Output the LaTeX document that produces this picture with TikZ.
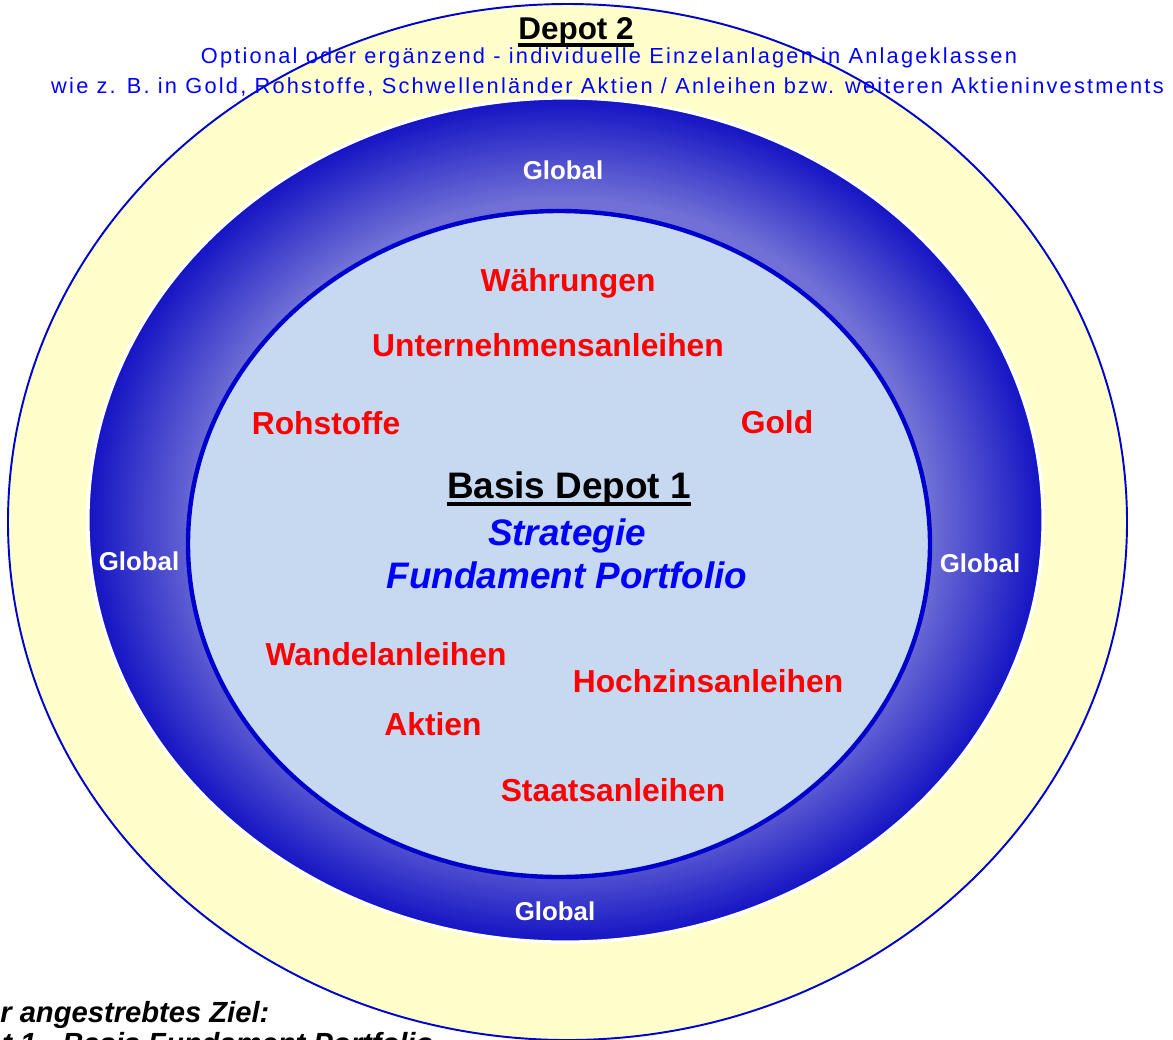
\documentclass[tikz,border=0pt]{standalone}
\usepackage{fontspec}
\setmainfont{Liberation Sans}
\newfontfamily\trackedfont[LetterSpace=10.2]{Liberation Sans}

\definecolor{RingDark}{RGB}{20,20,196}
\definecolor{RingLight}{RGB}{112,112,214}
\definecolor{Cream}{RGB}{255,255,204}
\definecolor{Core}{RGB}{198,217,241}
\definecolor{Rim}{RGB}{0,0,204}
\pgfdeclareradialshading{RingShade}{\pgfpoint{0bp}{0bp}}{color(0bp)=(RingLight); color(19bp)=(RingLight); color(25bp)=(RingDark); color(50bp)=(RingDark)}

\begin{document}
\begin{tikzpicture}[x=0.02cm, y=-0.02cm]
	\tikzstyle{Asset}	= [text=red, font=\fontsize{18.1}{20}\selectfont\bfseries, inner sep=0pt, anchor=base]
	\tikzstyle{Global}	= [text=white, font=\fontsize{14.7}{17}\selectfont\bfseries, inner sep=0pt, anchor=base]
	\tikzstyle{Note}	= [text=blue, font=\fontsize{12.4}{14}\trackedfont, inner sep=0pt, anchor=base]
	\tikzstyle{Title}	= [text=black, inner sep=0pt, anchor=base]
	\tikzstyle{Motto}	= [text=blue, font=\fontsize{21}{24}\selectfont\bfseries\itshape, inner sep=0pt, anchor=base]
	\tikzstyle{Goal}	= [font=\fontsize{16.6}{19}\selectfont\bfseries\itshape, inner sep=0pt, anchor=base west]

	\useasboundingbox (0,0) rectangle (1173,1039);
	\clip (0,0) rectangle (1173,1039);

	% Ziel, teilweise verdeckt
	\node (goal1) at (0,1022) [Goal] {r angestrebtes Ziel:};
	\node (goal2) at (2,1053) [Goal] {t 1 - Basis Fundament Portfolio};

	% Ringe
	\draw [Rim, line width=1.1pt, fill=Cream] (567.5,522) ellipse [x radius=559.5, y radius=518];
	\draw [white, line width=1.8pt, shading=RingShade] (565.5,520) ellipse [x radius=477.5, y radius=422];
	\draw [Rim, line width=2.5pt, fill=Core] (559,544) ellipse [x radius=371, y radius=333];

	% Depot 2
	\node (depot2) at (576,39.5) [Title, font=\fontsize{17.9}{20}\selectfont\bfseries] {Depot 2};
	\draw [line width=2.5pt] ([yshift=-3.1pt]depot2.base west) -- ([yshift=-3.1pt]depot2.base east);
	\node (note1) at (609,63) [Note] {Optional oder ergänzend - individuelle Einzelanlagen in Anlageklassen};
	\node (note2) at (607.5,93) [Note] {wie z. B. in Gold, Rohstoffe, Schwellenländer Aktien / Anleihen bzw. weiteren Aktieninvestments};

	\node (gtop) at (563,179) [Global] {Global};
	\node (gbottom) at (555,920) [Global] {Global};
	\node (gleft) at (139,570) [Global] {Global};
	\node (gright) at (980,572) [Global] {Global};

	% Basis Depot 1
	\node (basis) at (569,498) [Title, font=\fontsize{21}{24}\selectfont\bfseries] {Basis Depot 1};
	\draw [line width=2.3pt] ([yshift=-3.4pt]basis.base west) -- ([yshift=-3.4pt]basis.base east);
	\node (strategie) at (567,545) [Motto] {Strategie};
	\node (fundament) at (567,588) [Motto] {Fundament Portfolio};

	\node (waehrung) at (568,291.5) [Asset] {Währungen};
	\node (unternehmen) at (548,356) [Asset] {Unternehmensanleihen};
	\node (rohstoff) at (326,434) [Asset] {Rohstoffe};
	\node (gold) at (777,433) [Asset] {Gold};
	\node (wandel) at (386,665) [Asset] {Wandelanleihen};
	\node (hochzins) at (708,692) [Asset] {Hochzinsanleihen};
	\node (aktien) at (433,735) [Asset] {Aktien};
	\node (staat) at (613,801) [Asset] {Staatsanleihen};
\end{tikzpicture}
\end{document}
